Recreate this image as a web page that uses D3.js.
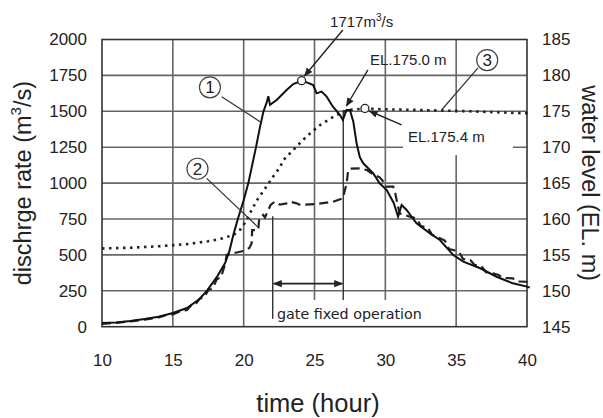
<!DOCTYPE html>
<html>
<head>
<meta charset="utf-8">
<script src="https://cdn.jsdelivr.net/npm/d3@7"></script>
<style>
  body { margin: 0; background: #fff; }
  text { font-family: "Liberation Sans", Arial, sans-serif; fill: #222; }
</style>
</head>
<body>
<svg id="chart" width="603" height="418"></svg>
<script>
// data: [hour, discharge m3/s] and [hour, EL. m]
const inflow = [
  [10, 25], [11, 30], [12, 40], [13, 53], [14, 70], [15, 95], [16, 130], [16.9, 195],
  [17.4, 250], [18.1, 345], [18.7, 445], [19.0, 530], [19.3, 650], [19.62, 760], [20.0, 880],
  [20.33, 1000], [20.87, 1250], [21.15, 1390], [21.4, 1500], [21.62, 1560], [21.74, 1605],
  [21.86, 1545], [22.33, 1579], [23.03, 1648], [23.5, 1690], [24.09, 1713], [24.5, 1700],
  [24.91, 1683], [25.15, 1625], [25.5, 1637], [25.86, 1602], [26.3, 1532], [26.8, 1474],
  [27.0, 1440], [27.27, 1509], [27.5, 1509], [27.74, 1428], [27.97, 1277], [28.2, 1180],
  [28.44, 1138], [29.15, 1068], [29.6, 999], [30.1, 952], [30.6, 860], [30.9, 766],
  [31.15, 848], [31.5, 813], [32.2, 720], [33.15, 650], [33.85, 604], [34.8, 499],
  [35.5, 453], [36.7, 407], [37.85, 348], [39.0, 302], [40.0, 279], [40.2, 272]
];

const outflow = [
  [10, 20], [11, 27], [12, 37], [13, 49], [14, 65], [14.5, 80], [15, 86], [15.5, 106],
  [16, 116], [16.3, 150], [16.6, 156], [16.9, 195], [17.2, 203], [17.5, 255], [17.8, 266],
  [18.1, 330], [18.4, 343], [18.7, 440], [18.8, 500], [19.3, 512], [20.0, 528], [20.4, 548],
  [20.56, 580], [20.6, 673], [21.03, 673], [21.1, 755], [21.38, 778], [21.5, 760],
  [21.9, 848], [22.2, 871], [22.56, 850], [23.03, 859], [23.27, 871], [23.74, 859],
  [24.0, 848], [25.15, 855], [26.3, 870], [27.0, 894], [27.27, 999], [27.38, 1091],
  [27.5, 1100], [28.2, 1103], [28.7, 1091], [29.15, 1060], [29.6, 1040], [29.97, 999],
  [30.1, 975], [30.56, 975], [30.7, 929], [31.0, 790], [31.74, 766], [32.0, 760],
  [32.3, 740], [32.5, 700], [33.0, 690], [33.3, 640], [33.85, 616], [34.2, 600],
  [34.5, 540], [34.8, 534], [35.2, 520], [35.5, 470], [36.0, 465], [36.3, 430],
  [36.8, 420], [37.1, 380], [37.6, 372], [38.0, 360], [38.3, 340], [39.0, 337],
  [39.3, 315], [39.97, 313], [40.2, 300]
];

const waterLevel = [
  [10, 155.9], [12, 156.0], [14, 156.2], [16, 156.5], [17.5, 156.9], [18.5, 157.3],
  [19.3, 157.8], [19.8, 158.6], [20.2, 159.8], [20.6, 161.4], [21.0, 162.8], [21.6, 164.5],
  [22.0, 165.7], [22.56, 167.2], [22.8, 168.2], [23.74, 170.1], [24.44, 171.5],
  [25.4, 173.1], [26.3, 174.2], [27.0, 174.9], [27.5, 175.2], [28.56, 175.4],
  [29.5, 175.3], [32, 175.2], [36, 175.0], [40.2, 174.7]
];

const xTicks = [10, 15, 20, 25, 30, 35, 40];
const leftTicks = [0, 250, 500, 750, 1000, 1250, 1500, 1750, 2000];
const rightTicks = [145, 150, 155, 160, 165, 170, 175, 180, 185];

const peakPoint = [24.09, 1713];      // 1717 m3/s
const levelPoint = [28.56, 175.4];    // EL.175.4 m
const gateStart = 22.05, gateEnd = 27.03;

const svg = d3.select("#chart");
const x = d3.scaleLinear().domain([10, 40]).range([102, 527]);
const y = d3.scaleLinear().domain([0, 2000]).range([326.7, 39.5]);
const yR = d3.scaleLinear().domain([145, 185]).range([326.7, 39.5]);

// arrow head
svg.append("defs").append("marker")
  .attr("id", "head").attr("viewBox", "0 0 10 10")
  .attr("refX", 9).attr("refY", 5)
  .attr("markerWidth", 9).attr("markerHeight", 9)
  .attr("markerUnits", "userSpaceOnUse")
  .attr("orient", "auto-start-reverse")
  .append("path").attr("d", "M0,1 L10,5 L0,9 Z").attr("fill", "#222");

// grid
const grid = svg.append("g").attr("stroke", "#666").attr("stroke-width", 1.6);
grid.selectAll(".gx").data(xTicks.slice(1, -1)).join("line")
  .attr("x1", d => x(d)).attr("x2", d => x(d))
  .attr("y1", y(2000)).attr("y2", y(0));
grid.selectAll(".gy").data(leftTicks.slice(1, -1)).join("line")
  .attr("x1", x(10)).attr("x2", x(40))
  .attr("y1", d => y(d)).attr("y2", d => y(d));

// white boxes behind the labels (they hide the grid)
svg.append("rect")
  .attr("x", x(31.25)).attr("y", y(1490))
  .attr("width", x(39.0) - x(31.25)).attr("height", y(1195) - y(1490))
  .attr("fill", "#fff");
svg.append("rect")
  .attr("x", x(22.2)).attr("y", y(186))
  .attr("width", x(32.8) - x(22.2)).attr("height", y(0) - y(186))
  .attr("fill", "#fff");

// frame
svg.append("rect")
  .attr("x", x(10)).attr("y", y(2000))
  .attr("width", x(40) - x(10)).attr("height", y(0) - y(2000))
  .attr("fill", "none").attr("stroke", "#333").attr("stroke-width", 1.6);

// axes
const fs = "17px";
const ax = svg.append("g").attr("transform", `translate(0,${y(0)})`)
  .call(d3.axisBottom(x).tickValues(xTicks).tickSize(0).tickPadding(27));
const al = svg.append("g").attr("transform", `translate(${x(10)},0)`)
  .call(d3.axisLeft(y).tickValues(leftTicks).tickFormat(d3.format("d")).tickSize(0).tickPadding(15));
const ar = svg.append("g").attr("transform", `translate(${x(40)},0)`)
  .call(d3.axisRight(yR).tickValues(rightTicks).tickSize(0).tickPadding(15));
[ax, al, ar].forEach(g => {
  g.select(".domain").remove();
  g.selectAll("text").style("font-size", fs).attr("fill", "#222")
    .style("font-family", "'Liberation Sans', Arial, sans-serif");
});

// gate fixed operation markers
const gate = svg.append("g").attr("stroke", "#333").attr("stroke-width", 1.4);
gate.append("line").attr("x1", x(gateStart)).attr("x2", x(gateStart))
  .attr("y1", y(770)).attr("y2", y(55));
gate.append("line").attr("x1", x(gateEnd)).attr("x2", x(gateEnd))
  .attr("y1", y(1509)).attr("y2", y(186));
svg.append("line")
  .attr("x1", x(gateStart) + 1).attr("x2", x(gateEnd) - 1)
  .attr("y1", y(300)).attr("y2", y(300))
  .attr("stroke", "#222").attr("stroke-width", 1.6)
  .attr("marker-start", "url(#head)").attr("marker-end", "url(#head)");
svg.append("text").attr("x", x(22.35)).attr("y", y(52))
  .style("font-family", "'DejaVu Sans', sans-serif")
  .style("font-size", "14.3px").text("gate fixed operation");

// curves
const line = d3.line().x(d => x(d[0])).y(d => y(d[1]));
const lineR = d3.line().x(d => x(d[0])).y(d => yR(d[1]));
svg.append("path").datum(waterLevel).attr("d", lineR)
  .attr("fill", "none").attr("stroke", "#222").attr("stroke-width", 2.6)
  .attr("stroke-dasharray", "2.5,4.5");
svg.append("path").datum(outflow).attr("d", line)
  .attr("fill", "none").attr("stroke", "#222").attr("stroke-width", 2.2)
  .attr("stroke-dasharray", "9,5");
svg.append("path").datum(inflow).attr("d", line)
  .attr("fill", "none").attr("stroke", "#111").attr("stroke-width", 2);

// marker circles
svg.append("circle").attr("cx", x(peakPoint[0])).attr("cy", y(peakPoint[1])).attr("r", 4)
  .attr("fill", "#fff").attr("stroke", "#222").attr("stroke-width", 1.3);
svg.append("circle").attr("cx", x(levelPoint[0])).attr("cy", yR(levelPoint[1])).attr("r", 4)
  .attr("fill", "#fff").attr("stroke", "#222").attr("stroke-width", 1.3);

// annotation arrows [from, to] in data units (hour, m3/s)
const arrows = [
  [[27.0, 2066], [24.29, 1746]],
  [[28.77, 1788], [27.25, 1537]],
  [[31.15, 1405], [28.88, 1502]]
];
svg.selectAll(".arr").data(arrows).join("line")
  .attr("x1", d => x(d[0][0])).attr("y1", d => y(d[0][1]))
  .attr("x2", d => x(d[1][0])).attr("y2", d => y(d[1][1]))
  .attr("stroke", "#222").attr("stroke-width", 1.4)
  .attr("marker-end", "url(#head)");

// leader lines for the circled numbers
const leaders = [
  [[18.45, 1602], [21.15, 1428]],
  [[17.39, 1033], [21.03, 692]],
  [[36.54, 1802], [33.97, 1509]]
];
svg.selectAll(".lead").data(leaders).join("line")
  .attr("x1", d => x(d[0][0])).attr("y1", d => y(d[0][1]))
  .attr("x2", d => x(d[1][0])).attr("y2", d => y(d[1][1]))
  .attr("stroke", "#333").attr("stroke-width", 1.2);

const circled = [["1", 17.62, 1667], ["2", 16.74, 1100], ["3", 37.19, 1857]];
const cg = svg.selectAll(".cn").data(circled).join("g")
  .attr("transform", d => `translate(${x(d[1])},${y(d[2])})`);
cg.append("circle").attr("r", 10.5).attr("fill", "#fff")
  .attr("stroke", "#444").attr("stroke-width", 1.2);
cg.append("text").attr("text-anchor", "middle").attr("dy", "0.36em")
  .style("font-size", "17px").text(d => d[0]);

// text labels
const peakLabel = svg.append("text").attr("x", x(26.1)).attr("y", y(2090))
  .style("font-size", "15px");
peakLabel.append("tspan").text("1717m");
peakLabel.append("tspan").attr("dy", -6).style("font-size", "10px").text("3");
peakLabel.append("tspan").attr("dy", 6).text("/s");

svg.append("text").attr("x", x(28.91)).attr("y", y(1822))
  .style("font-size", "15px").text("EL.175.0 m");
svg.append("text").attr("x", x(31.6)).attr("y", y(1285))
  .style("font-size", "15px").text("EL.175.4 m");

// axis titles
const lt = svg.append("text")
  .attr("transform", `translate(31,${(y(0) + y(2000)) / 2}) rotate(-90)`)
  .attr("text-anchor", "middle").style("font-size", "23.5px");
lt.append("tspan").text("dischrge rate (m");
lt.append("tspan").attr("dy", -10).style("font-size", "15px").text("3");
lt.append("tspan").attr("dy", 10).text("/s)");

svg.append("text")
  .attr("transform", `translate(582,${(y(0) + y(2000)) / 2}) rotate(90)`)
  .attr("text-anchor", "middle").style("font-size", "23.5px")
  .text("water level (EL. m)");

svg.append("text").attr("x", 318).attr("y", 412)
  .attr("text-anchor", "middle").style("font-size", "25.5px")
  .text("time (hour)");
</script>
</body>
</html>
